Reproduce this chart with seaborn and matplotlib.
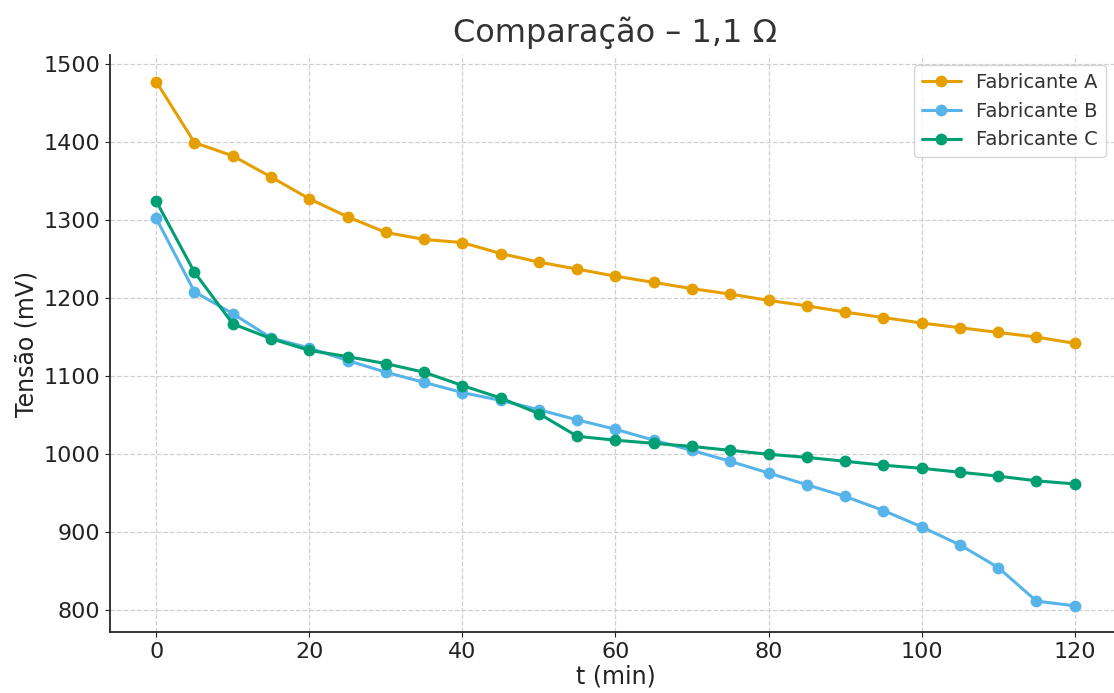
import numpy as np
import pandas as pd
import matplotlib
matplotlib.use("Agg")
import matplotlib.pyplot as plt
import seaborn as sns

t_min = [0, 5, 10, 15, 20, 25, 30, 35, 40, 45, 50, 55, 60, 65, 70, 75, 80, 85, 90, 95, 100, 105, 110, 115, 120]
fab_a = [1477, 1399, 1382, 1355, 1327, 1304, 1284, 1275, 1271, 1257, 1246, 1237, 1228, 1220, 1212, 1205, 1197, 1190, 1182, 1175, 1168, 1162, 1156, 1150, 1142]
fab_b = [1302, 1208, 1180, 1149, 1136, 1120, 1105, 1092, 1079, 1069, 1057, 1044, 1032, 1018, 1005, 991, 976, 961, 946, 928, 907, 884, 855, 812, 806]
fab_c = [1324, 1233, 1167, 1148, 1133, 1125, 1116, 1105, 1088, 1072, 1052, 1023, 1018, 1014, 1010, 1005, 1000, 996, 991, 986, 982, 977, 972, 966, 962]
names = ["Fabricante A", "Fabricante B", "Fabricante C"]
colors = ["#E69F00", "#56B4E9", "#009E73"]

df = pd.concat([
    pd.DataFrame({"t": t_min, "v": vals, "serie": n})
    for n, vals in zip(names, [fab_a, fab_b, fab_c])
])

sns.set_style("ticks")
plt.rcParams['font.family'] = ['DejaVu Sans']

fig = plt.figure(figsize=(11.14, 6.93), dpi=100)
ax = fig.add_axes([0.099, 0.088, 0.907, 0.832])
sns.lineplot(data=df, x="t", y="v", hue="serie", palette=colors, marker="o",
             markersize=8.5, markeredgewidth=0, linewidth=2.2, ax=ax)
ax.grid(True, linestyle="--", color="#d0d0d0", linewidth=0.9)
sns.despine(ax=ax)
ax.spines['left'].set_linewidth(1.3)
ax.spines['bottom'].set_linewidth(1.3)
ax.set_xticks([0, 20, 40, 60, 80, 100, 120])
ax.set_yticks([800, 900, 1000, 1100, 1200, 1300, 1400, 1500])
ax.tick_params(labelsize=16, colors="#222222")
ax.set_xlabel("t (min)", fontsize=17, color="#222222", labelpad=2)
ax.set_ylabel("Tensão (mV)", fontsize=17, color="#222222")
ax.set_title("Comparação – 1,1 Ω", fontsize=23, color="#333333", pad=10)
leg = ax.legend(title=None, fontsize=14, loc="upper right", frameon=True,
                bbox_to_anchor=(0.995, 1.0))
for txt in leg.get_texts():
    txt.set_color("#333333")
fig.savefig("out.png", dpi=100)
